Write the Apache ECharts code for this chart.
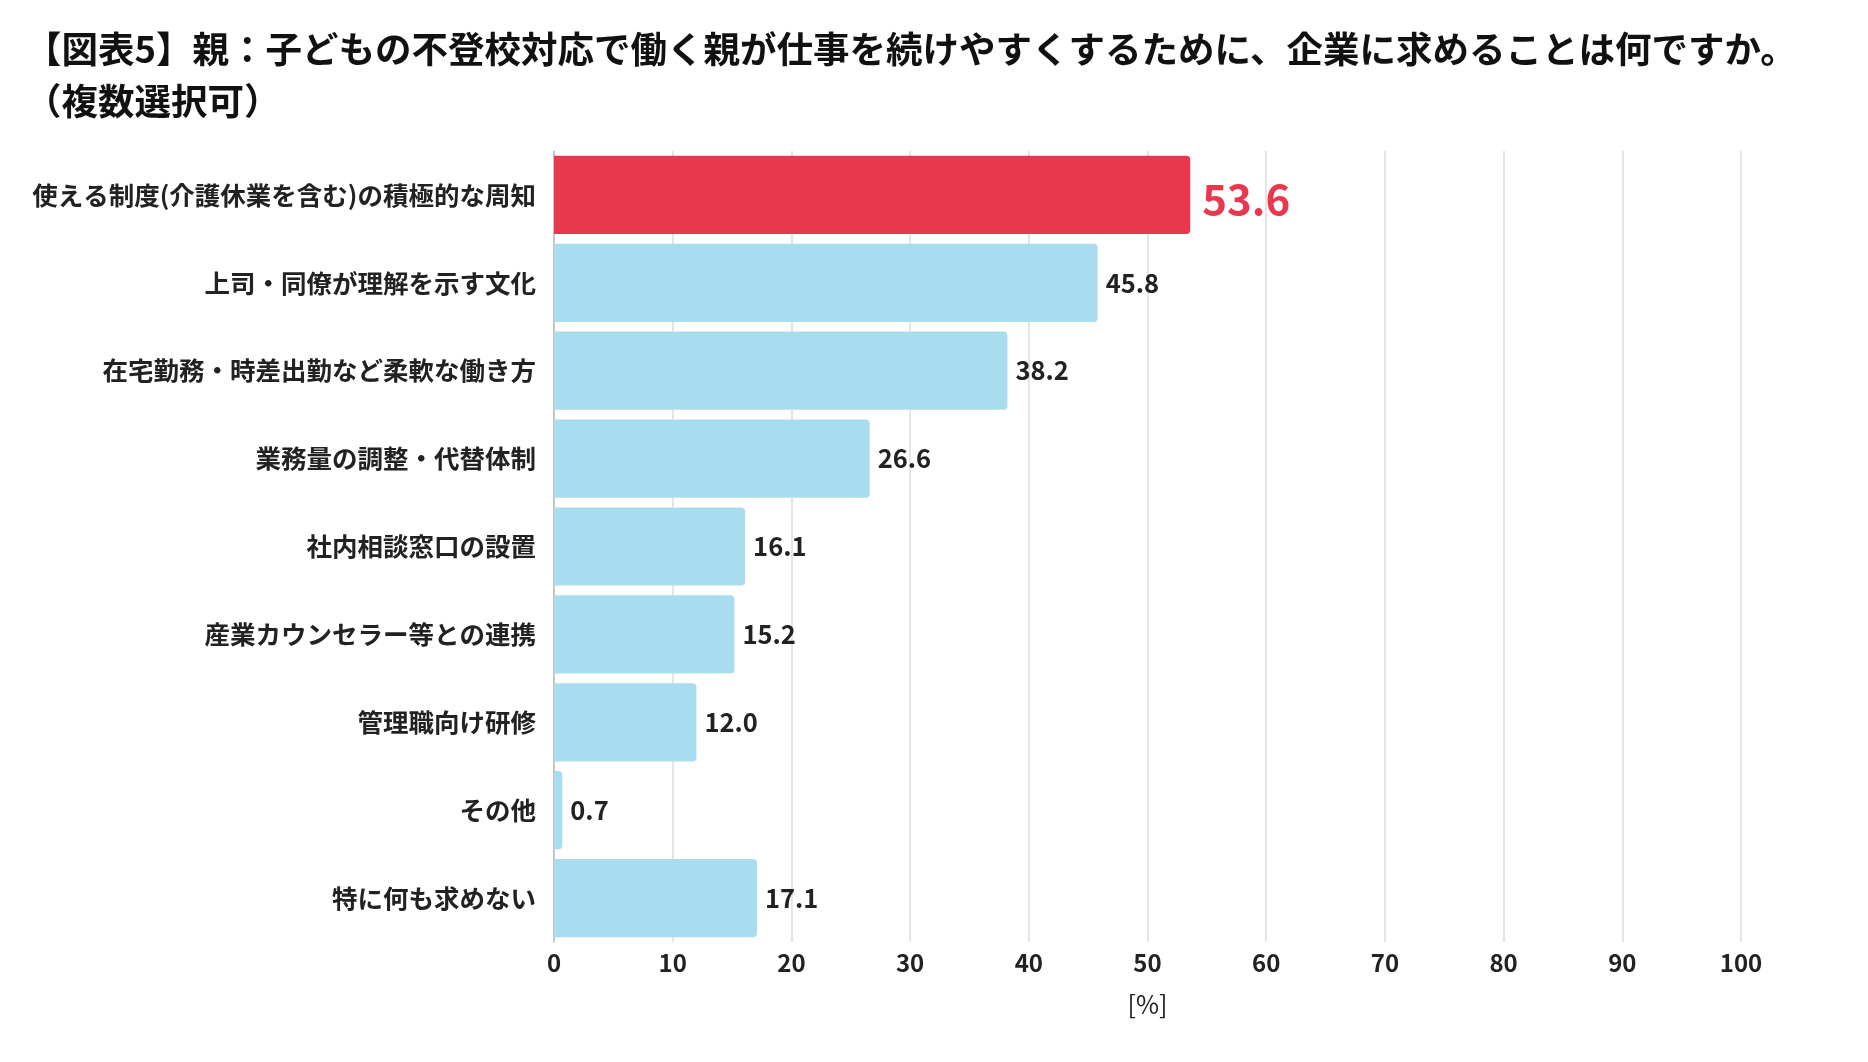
<!DOCTYPE html>
<html><head><meta charset="utf-8">
<script src="https://cdn.jsdelivr.net/npm/echarts@6/dist/echarts.min.js"></script>
<style>html,body{margin:0;background:#fff}#c{width:1868px;height:1062px}</style>
</head><body><div id="c"></div>
<script>
const categories = ['使える制度(介護休業を含む)の積極的な周知','上司・同僚が理解を示す文化','在宅勤務・時差出勤など柔軟な働き方','業務量の調整・代替体制','社内相談窓口の設置','産業カウンセラー等との連携','管理職向け研修','その他','特に何も求めない'];
const values = [53.6,45.8,38.2,26.6,16.1,15.2,12.0,0.7,17.1];
const highlight = 0;
const font = '"Noto Sans CJK JP", sans-serif';

const chart = echarts.init(document.getElementById('c'));
chart.setOption({
  animation: false,
  textStyle: { fontFamily: font },
  title: {
    text: '【図表5】親：子どもの不登校対応で働く親が仕事を続けやすくするために、企業に求めることは何ですか。\n（複数選択可）',
    left: 20, top: 18,
    textStyle: { fontSize: 36.5, fontWeight: 'bold', color: '#111', lineHeight: 52, fontFamily: font }
  },
  grid: { left: 554, right: 127, top: 151, bottom: 120 },
  xAxis: {
    type: 'value', min: 0, max: 100, interval: 10,
    name: '[%]', nameLocation: 'middle', nameGap: 50,
    nameTextStyle: { fontSize: 25, color: '#222', fontFamily: font },
    axisLabel: { fontSize: 24, fontWeight: 'bold', color: '#222', margin: 9, fontFamily: font },
    splitLine: { lineStyle: { color: '#ddd', width: 1.5 } },
    axisLine: { show: false }, axisTick: { show: false }
  },
  yAxis: {
    type: 'category', inverse: true, data: categories,
    axisLabel: { fontSize: 25.5, fontWeight: 'bold', color: '#222', margin: 18, fontFamily: font },
    axisLine: { lineStyle: { color: '#bbb', width: 1.5 } }, axisTick: { show: false }
  },
  series: [{
    type: 'bar', barCategoryGap: '11%',
    data: values.map((v, i) => ({
      value: v,
      itemStyle: { color: i === highlight ? '#E8374F' : '#A8DDF0', borderRadius: [0, 4, 4, 0] },
      label: i === highlight ? { fontSize: 42, color: '#E8374F', offset: [4, 4] } : {}
    })),
    label: {
      show: true, position: 'right', distance: 8, fontWeight: 'bold', fontSize: 25.5, color: '#222',
      fontFamily: font, formatter: p => p.value.toFixed(1)
    }
  }]
});
</script></body></html>
